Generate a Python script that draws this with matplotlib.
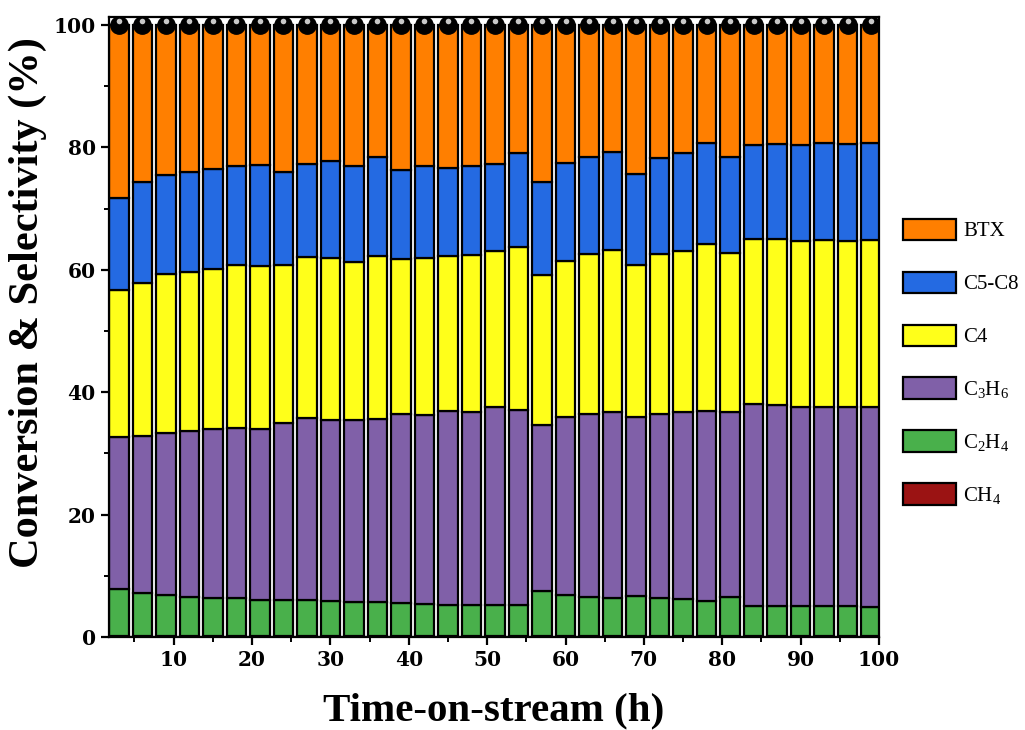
import numpy as np
import matplotlib
matplotlib.use('Agg')
import matplotlib.pyplot as plt

# time on stream (h)
tos = np.arange(3, 100, 3)

# cumulative selectivity levels (%)
ch4_top = [0.2] * 33
c2h4_top = [7.8, 7.2, 6.9, 6.6, 6.4, 6.3, 6.1, 6.0, 6.0, 5.9, 5.7, 5.7, 5.6, 5.4, 5.3, 5.2, 5.2,
            5.2, 7.5, 6.8, 6.6, 6.4, 6.7, 6.4, 6.2, 5.9, 6.5, 5.1, 5.1, 5.0, 5.0, 5.0, 4.9]
c3h6_top = [32.7, 32.8, 33.4, 33.7, 34.0, 34.2, 34.0, 34.9, 35.8, 35.5, 35.4, 35.6, 36.5, 36.2, 36.9, 36.8, 37.5,
            37.1, 34.6, 35.9, 36.5, 36.8, 35.9, 36.5, 36.7, 36.9, 36.8, 38.0, 37.9, 37.6, 37.6, 37.5, 37.6]
c4_top = [56.7, 57.9, 59.3, 59.6, 60.2, 60.7, 60.6, 60.7, 62.1, 61.9, 61.3, 62.3, 61.8, 62.0, 62.3, 62.4, 63.1,
          63.7, 59.2, 61.4, 62.6, 63.2, 60.7, 62.6, 63.1, 64.2, 62.8, 65.0, 65.0, 64.7, 64.8, 64.7, 64.8]
c5c8_top = [71.8, 74.3, 75.5, 75.9, 76.4, 77.0, 77.2, 76.0, 77.3, 77.7, 77.0, 78.4, 76.3, 77.0, 76.6, 77.0, 77.3,
            79.1, 74.3, 77.4, 78.5, 79.3, 75.7, 78.2, 79.1, 80.7, 78.4, 80.4, 80.5, 80.4, 80.7, 80.6, 80.7]
btx_top = [100.0] * 33
conversion = [100.0] * 33

labels = ['CH$_4$', 'C$_2$H$_4$', 'C$_3$H$_6$', 'C4', 'C5-C8', 'BTX']
colors = ['#9b1313', '#49b04b', '#8060a8', '#ffff1a', '#246ae2', '#ff7f00']

plt.rcParams['font.family'] = 'Liberation Serif'
plt.rcParams['mathtext.default'] = 'regular'

fig = plt.figure(figsize=(10.25, 7.3), dpi=100)
ax = fig.add_axes([109 / 1025, 93 / 730, 770 / 1025, 620 / 730])

levels = np.vstack([np.zeros(33), ch4_top, c2h4_top, c3h6_top, c4_top, c5c8_top, btx_top])
handles = []
for i in range(6):
    h = ax.bar(tos, levels[i + 1] - levels[i], bottom=levels[i], width=2.5,
               color=colors[i], edgecolor='black', linewidth=1.6, label=labels[i], zorder=2)
    handles.append(h)

# conversion markers
ax.plot(tos, conversion, 'o', color='black', markersize=12.5, zorder=4)
ax.plot(tos, np.array(conversion) + 0.7, 'o', color='#c8c8c8', markersize=4, markeredgewidth=0, zorder=5)

ax.set_xlim(1.75, 100)
ax.set_ylim(0, 101.3)
ax.set_xticks(np.arange(10, 101, 10))
ax.set_xticks(np.arange(5, 100, 10), minor=True)
ax.set_yticks(np.arange(0, 101, 20))
ax.set_yticks(np.arange(10, 100, 20), minor=True)

for s in ax.spines.values():
    s.set_linewidth(1.6)
ax.tick_params(which='major', length=6, width=1.6, labelsize=14.5, direction='out')
ax.tick_params(which='minor', length=3.5, width=1.4, direction='out')
for lab in ax.get_xticklabels() + ax.get_yticklabels():
    lab.set_fontweight('bold')
    lab.set_family('DejaVu Serif')

ax.set_xlabel('Time-on-stream (h)', fontsize=29.5, fontweight='bold', labelpad=16)
ax.set_ylabel('Conversion & Selectivity (%)', fontsize=30.5, fontweight='bold')
ax.yaxis.set_label_coords(-0.081, 0.539)

fig.legend(handles[::-1], labels[::-1], loc='upper left', bbox_to_anchor=(884 / 1025, 1 - 200 / 730),
           frameon=False, fontsize=15, handlelength=2.55, handleheight=1.2, labelspacing=1.45,
           handletextpad=0.35)

fig.savefig('out.png', dpi=100)
